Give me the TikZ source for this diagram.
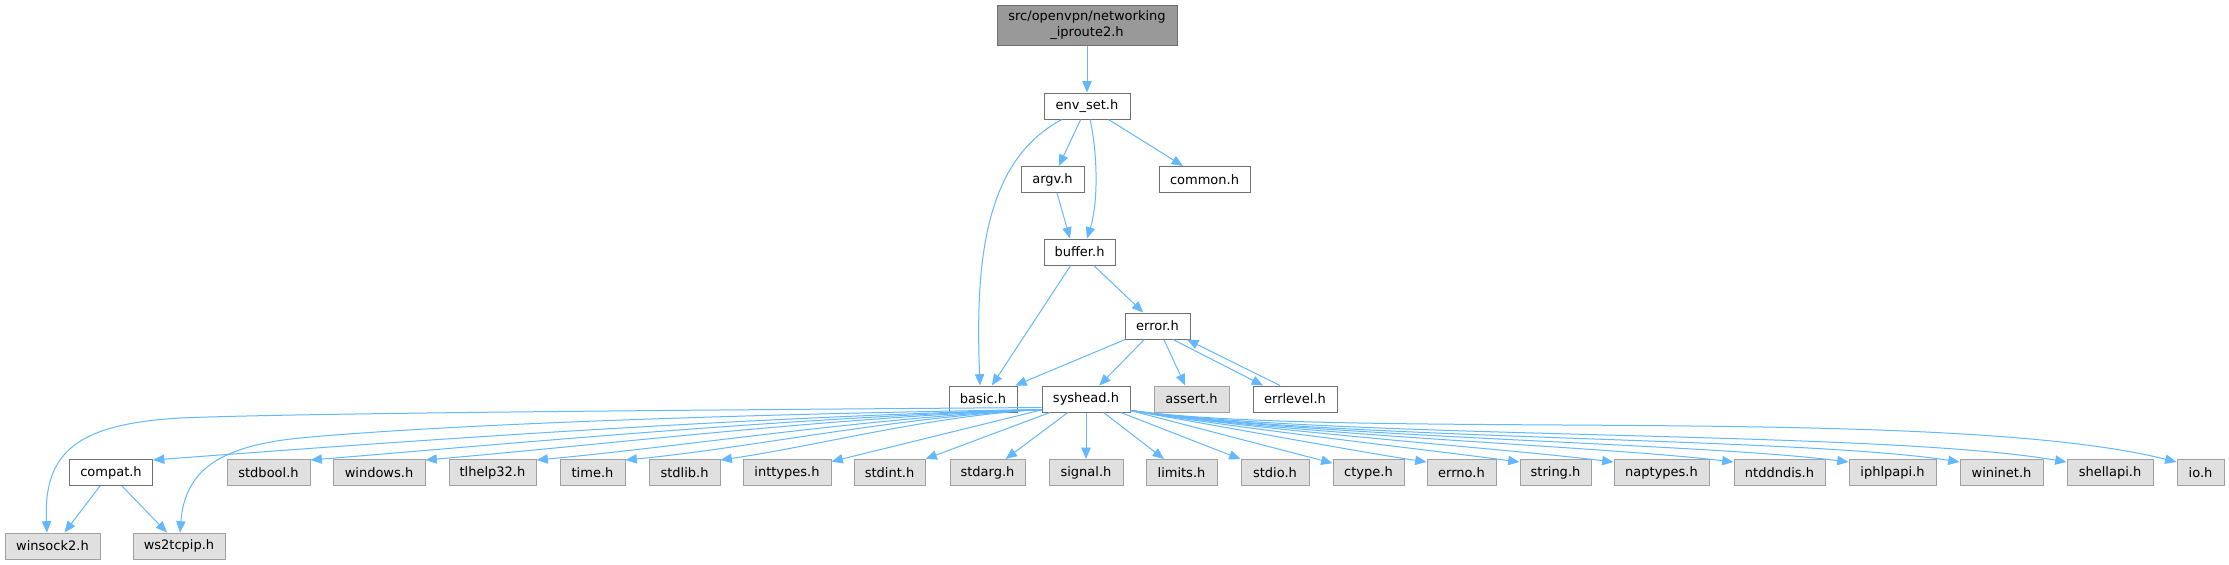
\documentclass[tikz,border=0pt]{standalone}
\usepackage{fontspec}
\setmainfont{DejaVu Sans}
\usetikzlibrary{arrows.meta,calc}
\definecolor{edgec}{HTML}{63B8FF}
\definecolor{bordw}{HTML}{707070}
\definecolor{bordg}{HTML}{A0A0A0}
\definecolor{fillg}{HTML}{E0E0E0}
\definecolor{rootfill}{HTML}{999999}
\begin{document}
\begin{tikzpicture}[x=0.75pt,y=-0.75pt,
  wbox/.style={draw=bordw, fill=white, line width=0.75pt, inner sep=0pt,
    minimum height=19.5pt, font=\fontsize{9.75}{12}\selectfont, text=black},
  gbox/.style={wbox, draw=bordg, fill=fillg},
  wd/.style={minimum width=#1*0.75pt},
  dep/.style={draw=edgec, line width=0.75pt, -{Triangle[length=8.5pt,width=7pt]}}]
\useasboundingbox[fill=white] (0,0) rectangle (2229,564);
% top part
\node[wbox, fill=rootfill, wd=180, minimum height=30pt, align=center] (root) at (1087,25) {src/openvpn/networking\\\_iproute2.h};
\node[wbox, wd=86] (envset) at (1087,106) {env\_set.h};
\node[wbox, wd=63] (argv) at (1052.5,179.5) {argv.h};
\node[wbox, wd=91] (common) at (1204.5,179.5) {common.h};
\node[wbox, wd=71] (buffer) at (1079.5,252) {buffer.h};
\node[wbox, wd=65] (error) at (1157.5,326) {error.h};
\node[wbox, wd=68] (basic) at (983,399) {basic.h};
\node[wbox, wd=88] (syshead) at (1086,399) {syshead.h};
\node[gbox, wd=75] (assert) at (1191.5,399) {assert.h};
\node[wbox, wd=84] (errlevel) at (1295,399) {errlevel.h};
% row of headers
\node[wbox, wd=83] (compat) at (111,472.5) {compat.h};
\node[gbox, wd=83] (stdbool) at (268.5,472.5) {stdbool.h};
\node[gbox, wd=92] (windows) at (379,472.5) {windows.h};
\node[gbox, wd=87] (tlhelp) at (492.5,472.5) {tlhelp32.h};
\node[gbox, wd=65] (time) at (592.5,472.5) {time.h};
\node[gbox, wd=71] (stdlib) at (684.5,472.5) {stdlib.h};
\node[gbox, wd=88] (inttypes) at (787,472.5) {inttypes.h};
\node[gbox, wd=71] (stdint) at (889.5,472.5) {stdint.h};
\node[gbox, wd=75] (stdarg) at (987.5,472.5) {stdarg.h};
\node[gbox, wd=74] (signal) at (1086,472.5) {signal.h};
\node[gbox, wd=71] (limits) at (1181.5,472.5) {limits.h};
\node[gbox, wd=68] (stdio) at (1275,472.5) {stdio.h};
\node[gbox, wd=71] (ctype) at (1368.5,472.5) {ctype.h};
\node[gbox, wd=69] (errno) at (1461.5,472.5) {errno.h};
\node[gbox, wd=71] (string) at (1555.5,472.5) {string.h};
\node[gbox, wd=95] (naptypes) at (1661.5,472.5) {naptypes.h};
\node[gbox, wd=91] (ntddndis) at (1779.5,472.5) {ntddndis.h};
\node[gbox, wd=87] (iphlpapi) at (1892.5,472.5) {iphlpapi.h};
\node[gbox, wd=83] (wininet) at (2001.5,472.5) {wininet.h};
\node[gbox, wd=86] (shellapi) at (2110,472.5) {shellapi.h};
\node[gbox, wd=47] (io) at (2200.5,472.5) {io.h};
\node[gbox, wd=95] (winsock) at (52.5,546) {winsock2.h};
\node[gbox, wd=92] (wstcp) at (179,546) {ws2tcpip.h};

% upper edges
\draw[dep] (root) -- (envset);
\draw[dep] (envset) -- (argv);
\draw[dep] (envset) -- (common);
\draw[dep] ($(envset.south)+(3,0)$) .. controls (1097,150) and (1099,200) .. ($(buffer.north)+(7.5,0)$);
\draw[dep] ($(envset.south)+(-25,0)$) .. controls (985,160) and (975,260) .. ($(basic.north)+(-3,0)$);
\draw[dep] ($(argv.south)+(4.5,0)$) -- ($(buffer.north)+(-9.5,0)$);
\draw[dep] (buffer) -- (basic);
\draw[dep] (buffer) -- (error);
\draw[dep] (error) -- (basic);
\draw[dep] (error) -- (syshead);
\draw[dep] (error) -- (assert);
\draw[dep] ($(error.south)+(15.5,0)$) -- ($(errlevel.north)+(-32,0)$);
\draw[dep] ($(errlevel.north)+(-15,0)$) -- ($(error.south)+(29.5,0)$);

% syshead straight edges
\draw[dep] (syshead) -- (inttypes);
\draw[dep] (syshead) -- (stdint);
\draw[dep] (syshead) -- (stdarg);
\draw[dep] (syshead) -- (signal);
\draw[dep] (syshead) -- (limits);
\draw[dep] (syshead) -- (stdio);
\draw[dep] (syshead) -- (ctype);

% syshead left curved edges
\coordinate (SL) at ($(syshead.south west)+(0,-3)$);
\coordinate (SR) at ($(syshead.south east)+(0,-2)$);
\draw[dep] (SL) .. controls (731,418) and (419,440) .. ($(compat.north east)+(0,1)$);
\draw[dep] (SL) .. controls (786,418) and (530,442) .. ($(stdbool.north east)+(0,1)$);
\draw[dep] (SL) .. controls (826,418) and (610,444) .. ($(windows.north east)+(0,1)$);
\draw[dep] (SL) .. controls (865,418) and (688,446) .. ($(tlhelp.north east)+(0,1)$);
\draw[dep] (SL) .. controls (896,417) and (750,448) .. ($(time.north east)+(0,1)$);
\draw[dep] (SL) .. controls (929,416) and (817,446) .. ($(stdlib.north east)+(0,1)$);
\draw[dep] ($(syshead.south west)+(0,-5)$) .. controls (700,410) and (300,413) .. (180,418)
   .. controls (80,424) and (43,450) .. ($(winsock.north)+(-5.5,0)$);
\draw[dep] (SL) .. controls (750,414) and (450,424) .. (300,438)
   .. controls (220,446) and (185,470) .. ($(wstcp.north)+(1,0)$);

% syshead right curved edges
\draw[dep] (SR) .. controls (1230,428) and (1360,452) .. ($(errno.north west)+(0,3)$);
\draw[dep] (SR) .. controls (1250,430) and (1430,450) .. ($(string.north west)+(0,3)$);
\draw[dep] (SR) .. controls (1280,433) and (1500,448) .. ($(naptypes.north west)+(0,3)$);
\draw[dep] (SR) .. controls (1300,436) and (1600,446) .. ($(ntddndis.north west)+(0,3)$);
\draw[dep] (SR) .. controls (1320,438) and (1700,443) .. ($(iphlpapi.north west)+(0,3)$);
\draw[dep] (SR) .. controls (1330,440) and (1800,437) .. ($(wininet.north west)+(0,3)$);
\draw[dep] (SR) .. controls (1350,440) and (1880,430) .. ($(shellapi.north west)+(0,3)$);
\draw[dep] (SR) .. controls (1350,440) and (1950,405) .. ($(io.north west)+(0,3)$);

% compat edges
\draw[dep] ($(compat.south)+(-11,0)$) -- ($(winsock.north)+(12,0)$);
\draw[dep] ($(compat.south)+(11,0)$) -- ($(wstcp.north)+(-12,0)$);
\end{tikzpicture}
\end{document}
